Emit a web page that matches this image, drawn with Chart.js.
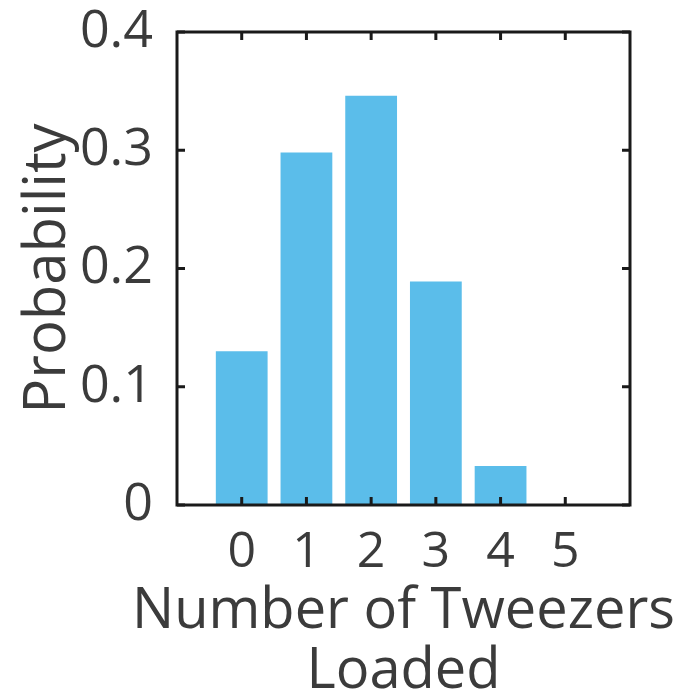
<!DOCTYPE html>
<html>
<head>
<meta charset="utf-8">
<script src="https://cdn.jsdelivr.net/npm/chart.js@4"></script>
<style>
  html, body { margin: 0; padding: 0; background: #fff; }
  #wrap { width: 686px; height: 696px; }
</style>
</head>
<body>
<div id="wrap"><canvas id="tweezerChart"></canvas></div>
<script>
const categories = [0, 1, 2, 3, 4, 5];
const probabilities = [0.13, 0.298, 0.346, 0.189, 0.033, 0];
const yTicks = [0, 0.1, 0.2, 0.3, 0.4];
const xTitle = ['Number of Tweezers', 'Loaded'];

const textColor = '#3b3b3b';
const fontFamily = '"Open Sans", "Noto Sans", sans-serif';

// inward ticks + box, MATLAB style; x title drawn here so it can run wider than the plot
const boxPlugin = {
    id: 'box',
    afterDatasetsDraw(chart) {
        const { ctx, chartArea: a, scales } = chart;
        const len = 8;
        ctx.save();
        ctx.strokeStyle = '#1a1a1a';
        ctx.lineWidth = 3;
        ctx.strokeRect(a.left, a.top, a.right - a.left, a.bottom - a.top);
        ctx.beginPath();
        categories.forEach(c => {
            const px = scales.x.getPixelForValue(c);
            ctx.moveTo(px, a.bottom); ctx.lineTo(px, a.bottom - len);
            ctx.moveTo(px, a.top); ctx.lineTo(px, a.top + len);
        });
        yTicks.forEach(v => {
            const py = scales.y.getPixelForValue(v);
            ctx.moveTo(a.left, py); ctx.lineTo(a.left + len, py);
            ctx.moveTo(a.right, py); ctx.lineTo(a.right - len, py);
        });
        ctx.stroke();

        ctx.fillStyle = textColor;
        ctx.font = '56px ' + fontFamily;
        ctx.textAlign = 'center';
        ctx.textBaseline = 'alphabetic';
        const cx = (a.left + a.right) / 2;
        ctx.fillText(xTitle[0], cx, a.bottom + 123);
        ctx.fillText(xTitle[1], cx, a.bottom + 183);
        ctx.restore();
    }
};

new Chart(document.getElementById('tweezerChart'), {
    type: 'bar',
    data: {
        datasets: [{
            data: categories.map((c, i) => ({ x: c, y: probabilities[i] })),
            backgroundColor: '#5BBDEA',
            borderWidth: 0,
            barPercentage: 0.8,
            categoryPercentage: 1.0
        }]
    },
    options: {
        responsive: true,
        maintainAspectRatio: false,
        animation: false,
        layout: { padding: { left: 14, right: 56, top: 32, bottom: 6 } },
        plugins: { legend: { display: false }, tooltip: { enabled: false } },
        scales: {
            x: {
                type: 'linear',
                offset: false,
                min: -1,
                max: 6,
                grid: { display: false },
                border: { display: false },
                ticks: {
                    stepSize: 1,
                    color: textColor,
                    font: { family: fontFamily, size: 50 },
                    padding: 10,
                    autoSkip: false,
                    maxRotation: 0,
                    callback: v => categories.includes(v) ? String(v) : ''
                },
                afterFit(scale) { scale.height = 185; }
            },
            y: {
                min: 0,
                max: 0.4,
                grid: { display: false },
                border: { display: false },
                ticks: {
                    stepSize: 0.1,
                    color: textColor,
                    font: { family: fontFamily, size: 52, lineHeight: 0.5 },
                    padding: 16,
                    callback: v => v === 0 ? '0' : v.toFixed(1)
                },
                title: {
                    display: true,
                    text: 'Probability',
                    color: textColor,
                    font: { family: fontFamily, size: 58 },
                    padding: { top: 0, bottom: 0 }
                },
                afterFit(scale) { scale.width = 163; }
            }
        }
    },
    plugins: [boxPlugin]
});
</script>
</body>
</html>
